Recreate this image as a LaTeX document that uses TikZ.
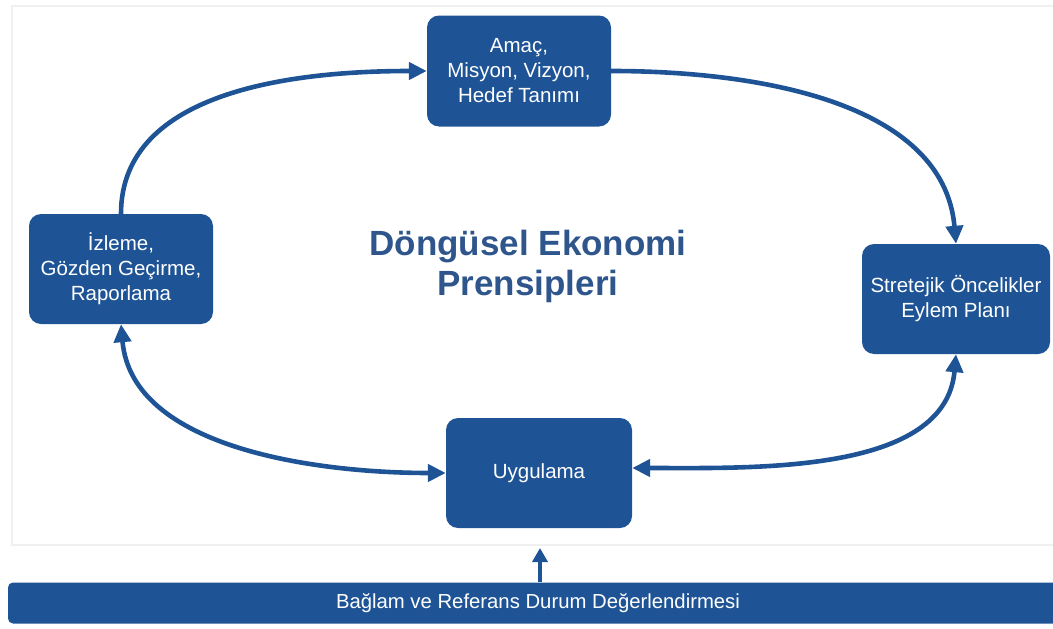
\documentclass[tikz,border=0pt]{standalone}
\usepackage{fontspec}
\setmainfont{Liberation Sans}
\usetikzlibrary{arrows.meta}
\definecolor{boxblue}{RGB}{30,84,150}
\definecolor{titleblue}{RGB}{46,86,140}
\definecolor{framegray}{RGB}{240,240,240}
\tikzset{
  stagebox/.style={draw=none, fill=boxblue, rounded corners=12pt, text=white,
    align=center, inner sep=0pt, font=\fontsize{20.5}{25}\selectfont},
  flow/.style={draw=boxblue, line width=4.6pt,
    -{Triangle[length=18pt,width=17pt]}},
  flowboth/.style={draw=boxblue, line width=4.6pt,
    {Triangle[length=18pt,width=17pt]}-{Triangle[length=18pt,width=17pt]}},
}
\begin{document}
\begin{tikzpicture}[x=1pt,y=-1pt]
  \useasboundingbox (0,0) rectangle (1053,629);
  % faint frame around the cycle area
  \draw[framegray, line width=2pt] (1060,6) -- (12,6) -- (12,545) -- (1060,545);

  % stages of the cycle
  \node[stagebox, minimum width=184pt, minimum height=111pt] (goal) at (519,71)
    {Amaç,\\Misyon, Vizyon,\\Hedef Tanımı};
  \node[stagebox, minimum width=184pt, minimum height=110pt] (monitor) at (121,269)
    {İzleme,\\Gözden Geçirme,\\Raporlama};
  \node[stagebox, minimum width=188pt, minimum height=110pt] (plan) at (956,299)
    {Stretejik Öncelikler\\Eylem Planı};
  \node[stagebox, minimum width=186pt, minimum height=110pt] (apply) at (539,473)
    {Uygulama};

  % baseline assessment bar
  \node[draw=none, fill=boxblue, rounded corners=5pt, text=white, inner sep=0pt,
    minimum width=1060pt, minimum height=41pt, font=\fontsize{20.3}{24}\selectfont]
    (context) at (538,603) {Bağlam ve Referans Durum Değerlendirmesi};

  % centre title
  \node[text=titleblue, align=center, font=\fontsize{35}{40}\selectfont\bfseries]
    (title) at (528,266) {Döngüsel Ekonomi\\Prensipleri};

  % connectors
  \draw[flow] (monitor.north) to[out=90, in=180, looseness=0.95] (goal.west);
  \draw[flow] (goal.east) to[out=0, in=95, looseness=0.95] (plan.north);
  \draw[flowboth] (monitor.south) to[out=-85, in=180, looseness=0.9] (apply.west);
  \draw[flowboth] (plan.south) to[out=-95, in=0, looseness=0.9] ([yshift=5pt]apply.east);
  \coordinate (rise) at (540,548);
  \draw[draw=boxblue, line width=4.6pt, -{Triangle[length=14pt,width=15pt]}]
    (context.north -| rise) -- (rise);
\end{tikzpicture}
\end{document}
